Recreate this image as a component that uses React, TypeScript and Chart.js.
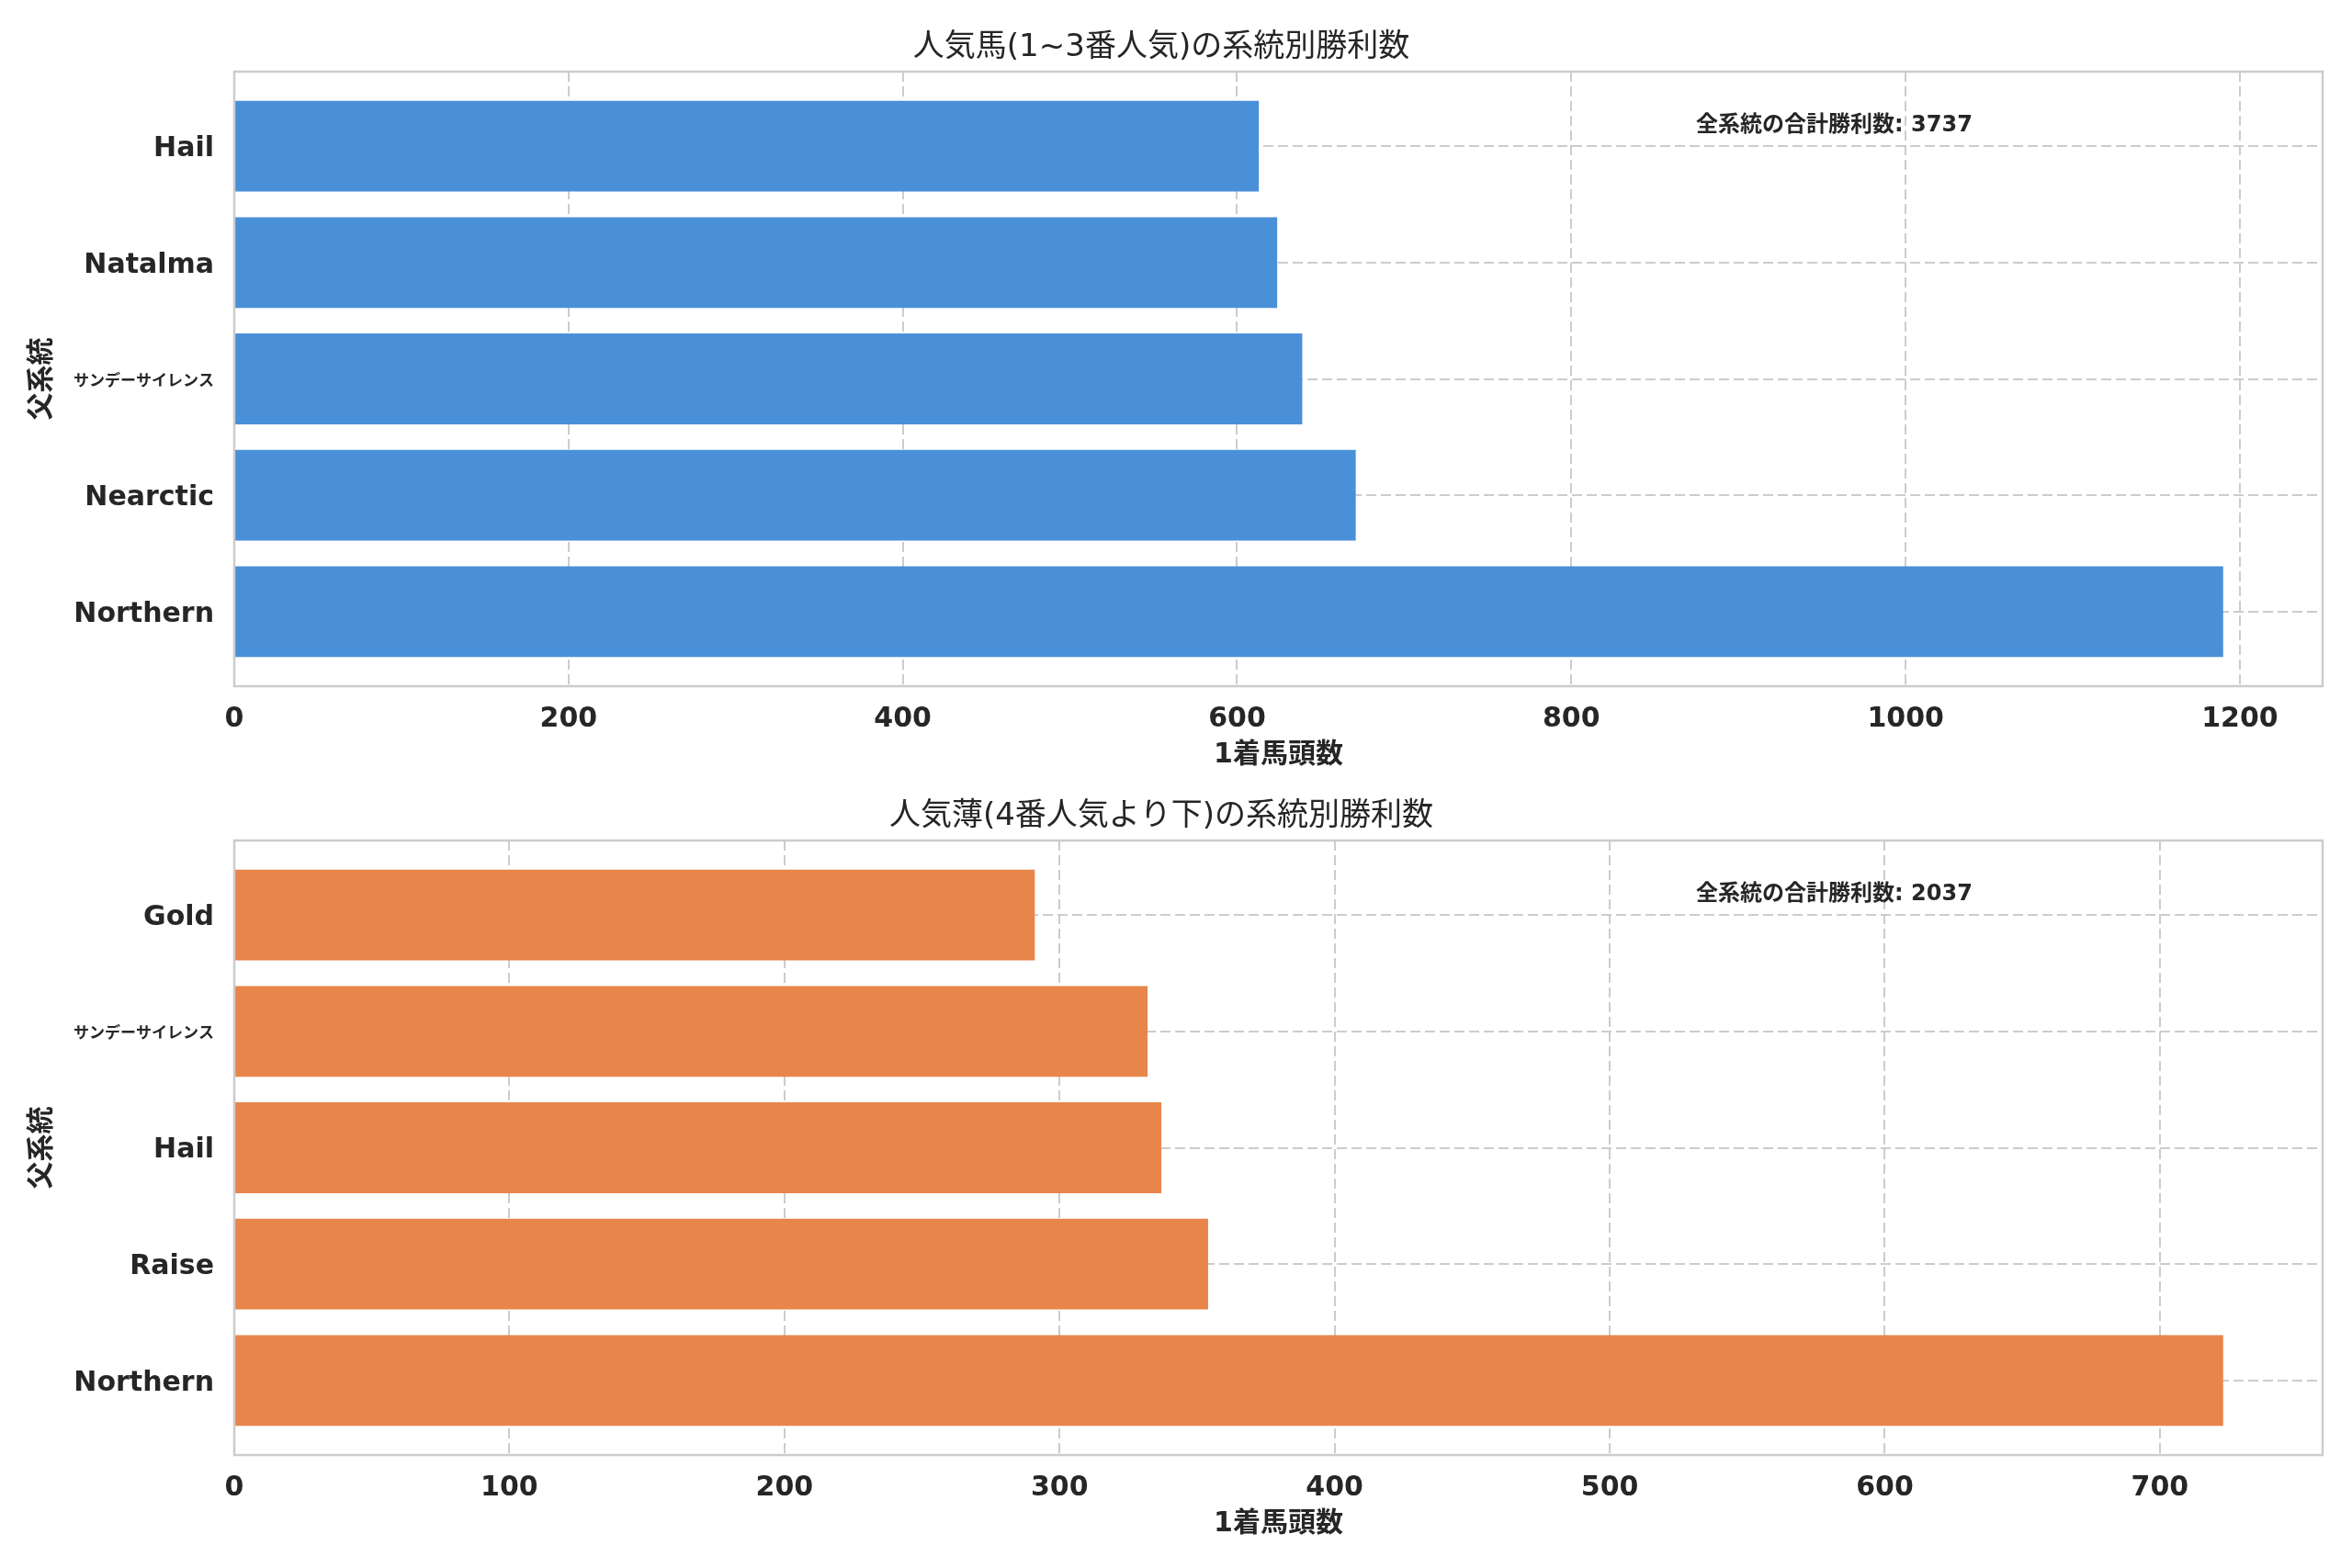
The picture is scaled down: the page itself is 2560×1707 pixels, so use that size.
import React, { useEffect, useRef } from 'react';
import { Chart, registerables } from 'chart.js';

Chart.register(...registerables);

const FONT = '"DejaVu Sans", "Noto Sans CJK JP", sans-serif';
const TEXT = '#262626';
const GRID = '#cccccc';

// 上段: 人気馬 (下から順)
const topCategories = ['Northern', 'Nearctic', 'サンデーサイレンス', 'Natalma', 'Hail'];
const topValues = [1190, 671, 639, 624, 613];
const topTicks = [0, 200, 400, 600, 800, 1000, 1200];

// 下段: 人気薄 (下から順)
const bottomCategories = ['Northern', 'Raise', 'Hail', 'サンデーサイレンス', 'Gold'];
const bottomValues = [723, 354, 337, 332, 291];
const bottomTicks = [0, 100, 200, 300, 400, 500, 600, 700];

const topTitle = '人気馬(1~3番人気)の系統別勝利数';
const bottomTitle = '人気薄(4番人気より下)の系統別勝利数';
const xLabel = '1着馬頭数';
const yLabel = '父系統';
const noteLabel = '全系統の合計勝利数';

interface PanelProps {
  categories: string[];
  values: number[];
  ticks: number[];
  color: string;
  title: string;
  titleTop: number;
  bottomPad: number;
}

const framePlugin = {
  id: 'frame',
  afterDatasetsDraw(chart: Chart) {
    const { ctx, chartArea } = chart;
    ctx.save();
    ctx.strokeStyle = GRID;
    ctx.lineWidth = 2.5;
    ctx.strokeRect(chartArea.left, chartArea.top, chartArea.right - chartArea.left, chartArea.bottom - chartArea.top);
    ctx.restore();
  },
};

const HBarPanel: React.FC<PanelProps> = ({ categories, values, ticks, color, title, titleTop, bottomPad }) => {
  const chartRef = useRef<HTMLCanvasElement>(null);
  const chartInstance = useRef<Chart | null>(null);

  useEffect(() => {
    if (!chartRef.current) return;
    const ctx = chartRef.current.getContext('2d');
    if (!ctx) return;
    if (chartInstance.current) chartInstance.current.destroy();

    const n = categories.length;
    const span = n - 1 + 0.8;
    const xMax = Math.max(...values) * 1.05;
    const total = values.reduce((a, b) => a + b, 0);

    const notePlugin = {
      id: 'note',
      afterDraw(chart: Chart) {
        const { ctx: c, chartArea } = chart;
        const w = chartArea.right - chartArea.left;
        const h = chartArea.bottom - chartArea.top;
        c.save();
        c.fillStyle = TEXT;
        c.font = `bold 24px ${FONT}`;
        c.textAlign = 'left';
        c.textBaseline = 'middle';
        c.fillText(`${noteLabel}: ${total}`, chartArea.left + 0.7 * w, chartArea.top + 0.088 * h);
        c.restore();
      },
    };

    chartInstance.current = new Chart(ctx, {
      type: 'bar',
      data: {
        datasets: [{
          data: values.map((v, i) => ({ x: v, y: i })),
          backgroundColor: color,
          borderWidth: 0,
          categoryPercentage: 1,
          barPercentage: 0.78,
        }],
      },
      options: {
        indexAxis: 'y',
        responsive: false,
        animation: false,
        devicePixelRatio: 1,
        layout: { padding: { top: 0, left: 0, right: 32, bottom: bottomPad } },
        plugins: {
          legend: { display: false },
          tooltip: { enabled: false },
          title: {
            display: true,
            text: title,
            color: TEXT,
            font: { family: FONT, size: 34, weight: 'normal' },
            padding: { top: titleTop, bottom: 5.6 },
          },
        },
        scales: {
          x: {
            type: 'linear',
            position: 'bottom',
            min: 0,
            max: xMax,
            offset: false,
            afterBuildTicks: (s: any) => { s.ticks = ticks.map((v) => ({ value: v })); },
            afterFit: (s: any) => { s.height = 93; },
            ticks: {
              color: TEXT,
              font: { family: FONT, size: 30, weight: 'bold' },
              padding: 18,
              maxRotation: 0,
              callback: (v: any) => String(v),
            },
            grid: { color: GRID, lineWidth: 2, drawTicks: false, offset: false },
            border: { display: false, dash: [11, 5] },
            title: {
              display: true,
              text: xLabel,
              color: TEXT,
              font: { family: FONT, size: 30, weight: 'bold' },
              padding: { top: 0, bottom: 0 },
            },
          },
          y: {
            type: 'linear',
            min: -0.4 - 0.05 * span,
            max: n - 1 + 0.4 + 0.05 * span,
            offset: false,
            afterBuildTicks: (s: any) => { s.ticks = categories.map((_, i) => ({ value: i })); },
            afterFit: (s: any) => { s.width = 255; },
            ticks: {
              color: TEXT,
              padding: 22,
              labelOffset: 3,
              callback: (v: any) => categories[v as number] ?? '',
              font: (c: any) => {
                const label = c.tick ? categories[c.tick.value] : '';
                return label && /[^\x00-\x7F]/.test(label)
                  ? { family: FONT, size: 17, weight: 'bold' }
                  : { family: FONT, size: 30, weight: 'bold' };
              },
            },
            grid: { color: GRID, lineWidth: 2, drawTicks: false, offset: false },
            border: { display: false, dash: [11, 5] },
            title: {
              display: true,
              text: yLabel,
              color: TEXT,
              font: { family: FONT, size: 30, weight: 'bold' },
              padding: { top: 28, bottom: 0 },
            },
          },
        },
      } as any,
      plugins: [framePlugin, notePlugin],
    });

    return () => {
      if (chartInstance.current) {
        chartInstance.current.destroy();
        chartInstance.current = null;
      }
    };
  }, [categories, values, ticks, color, title, titleTop, bottomPad]);

  return <canvas ref={chartRef} width={2560} height={854} style={{ display: 'block' }} />;
};

export default function App() {
  return (
    <div style={{ position: 'absolute', left: 0, top: 0, width: 2560, height: 1707, background: '#ffffff', overflow: 'hidden' }}>
      <div style={{ position: 'absolute', left: 0, top: 0 }}>
        <HBarPanel
          categories={topCategories}
          values={topValues}
          ticks={topTicks}
          color="#4a90d9"
          title={topTitle}
          titleTop={31.6}
          bottomPad={14}
        />
      </div>
      <div style={{ position: 'absolute', left: 0, top: 853 }}>
        <HBarPanel
          categories={bottomCategories}
          values={bottomValues}
          ticks={bottomTicks}
          color="#e8854a"
          title={bottomTitle}
          titleTop={15.6}
          bottomPad={30}
        />
      </div>
    </div>
  );
}
